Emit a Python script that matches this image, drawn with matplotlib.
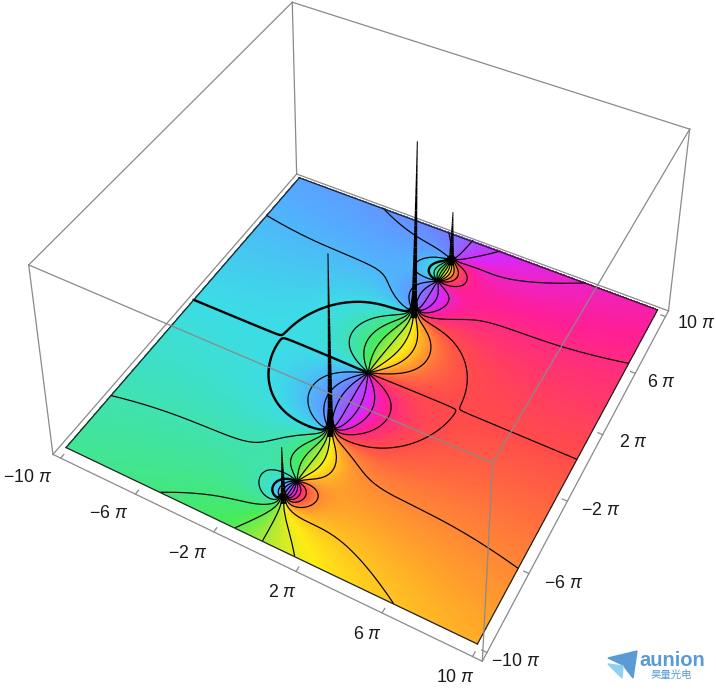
import numpy as np
import matplotlib
matplotlib.use("Agg")
import matplotlib.pyplot as plt
from matplotlib.colors import LinearSegmentedColormap
from matplotlib.patches import Polygon

PI = np.pi
R = 10 * PI
W, H = 716, 690

# poles and zeros of the plotted function
pole_x = [-0.05 * PI] * 4
pole_y = [-8 * PI, -4 * PI, 4 * PI, 8 * PI]
zero_x = [-0.15 * PI, -0.35 * PI, -0.15 * PI]
zero_y = [-6.75 * PI, -0.003, 6.75 * PI]
peak_tops = [0.31, 0.97, 0.97, 0.31]
tick_values = [-10, -6, -2, 2, 6, 10]
front_dx = [-33, -27, -26, -13, -15, -17]
front_dy = [-19, -19, -22, -21, -22, -21]
side_dx = [29, 35, 33, 31, 26, 31]
side_dy = [-9, -10, -9, -8, -9, -7]
hue_colors = ["#ff4b4b", "#ff9a2e", "#ffeb14", "#46eb5a", "#3cdce6", "#55aaff", "#6e82ff", "#d828fa", "#ff1e96", "#ff4b4b"]
hue_stops = [0, 1 / 12, 1 / 6, 1 / 3, 1 / 2, 7 / 12, 2 / 3, 5 / 6, 11 / 12, 1]

# camera fitted to the box corners of the picture, pixels from lower left
CAM = np.array([
    [5.4373, 4.4719, -25.1151, 374.895],
    [-3.06215, 5.68785, 151.61, 310.667],
    [-0.0016974, 0.0031055, -0.0686203, 1.0],
])
PAD = 0.042
Z0 = 0.021
L = R * (1 + PAD)


def pixel(x, y, z):
    h = np.array([x, y, z, 1.0]) @ CAM.T
    return h[:2] / h[2]


def field(x, y):
    z = x + 1j * y
    num = np.ones_like(z)
    for zx, zy in zip(zero_x, zero_y):
        num = num * (z - (zx + 1j * zy))
    den = np.ones_like(z)
    for px, py in zip(pole_x, pole_y):
        den = den * (z - (px + 1j * py))
    return num, den


def height(x, y, cap_scale=1.0):
    num, den = field(x, y)
    with np.errstate(divide="ignore", invalid="ignore"):
        mag = np.abs(num) / np.abs(den)
    mag = np.nan_to_num(mag, nan=1e9, posinf=1e9)
    near = np.argmin([np.hypot(x - px, y - py) for px, py in zip(pole_x, pole_y)], axis=0)
    caps = np.array(peak_tops)[near] * cap_scale
    return Z0 + np.minimum(0.1 * mag, caps)


def phase(x, y):
    num, den = field(x, y)
    return np.angle(num) - np.angle(den)


xn = np.unique(np.concatenate([np.linspace(-R, R, 161)] + [c + np.geomspace(0.03, 3, 20) for c in set(pole_x + zero_x)]
                              + [c - np.geomspace(0.03, 3, 20) for c in set(pole_x + zero_x)] + [list(set(pole_x + zero_x))]))
y_parts = [np.linspace(-R, R, 241)]
for c in pole_y + zero_y:
    y_parts += [c + np.geomspace(0.03, 3, 20), c - np.geomspace(0.03, 3, 20), [c]]
yn = np.unique(np.round(np.concatenate(y_parts), 6))
X, Y = np.meshgrid(xn, yn)
PH = phase(X, Y)
Zs = height(X, Y, cap_scale=0.3)

cmap = LinearSegmentedColormap.from_list("hue", list(zip(hue_stops, hue_colors)), N=720)
FC = cmap(np.mod(PH, 2 * PI) / (2 * PI))

fig = plt.figure(figsize=(W / 100, H / 100), dpi=100)
ax = fig.add_axes([-0.3, -0.3, 1.6, 1.6], projection="3d")
ax.computed_zorder = False
ax.set_axis_off()
ax.set_xlim(-L, L)
ax.set_ylim(-L, L)
ax.set_zlim(0, 1)


def get_proj():
    ax.apply_aspect()
    inv = ax.transData.inverted()
    o = inv.transform((0, 0))
    e = inv.transform((1, 1))
    A = np.array([[e[0] - o[0], 0, o[0]], [0, e[1] - o[1], o[1]], [0, 0, 1]])
    Q = A @ CAM
    return np.array([Q[0], Q[1], [0, 0, 0, -1.0], Q[2]])


ax.get_proj = get_proj

ax.plot_surface(X, Y, Zs, facecolors=FC, rcount=X.shape[0], ccount=X.shape[1], shade=False,
                antialiased=False, linewidth=0, zorder=1)

# phase contours, the negative real branch is drawn twice as heavy
tmp_fig, tmp_ax = plt.subplots()
for k in range(8):
    th = k * PI / 8
    cs = tmp_ax.contour(X, Y, np.sin(PH - th), levels=[0.0])
    for seg in cs.allsegs[0]:
        sx, sy = seg[:, 0], seg[:, 1]
        sz = height(sx, sy, cap_scale=0.15)
        if k == 0:
            sign = np.cos(phase(sx, sy))
            thin = np.where(sign > 0, sz, np.nan)
            thick = np.where(sign < 0, sz, np.nan)
            ax.plot(sx, sy, thin, color="k", lw=0.85, zorder=2, solid_capstyle="round")
            ax.plot(sx, sy, thick, color="k", lw=1.7, zorder=2, solid_capstyle="round")
        else:
            ax.plot(sx, sy, sz, color="k", lw=0.85, zorder=2, solid_capstyle="round")
plt.close(tmp_fig)

# spikes at the poles, black because the contours crowd together on them
for px, py, top in zip(pole_x, pole_y, peak_tops):
    levels = np.linspace(Z0, Z0 + top, 25)
    for i in range(len(levels) - 1):
        t = i / (len(levels) - 1)
        ax.plot([px, px], [py, py], [levels[i], levels[i + 1]], color="k",
                lw=0.7 + 3.5 * (1 - t) ** 1.3, zorder=2.5, solid_capstyle="butt")

# surface rim
for a, b in [((-R, -R), (R, -R)), ((R, -R), (R, R)), ((R, R), (-R, R)), ((-R, R), (-R, -R))]:
    ax.plot([a[0], b[0]], [a[1], b[1]], [Z0, Z0], color="#222222", lw=0.9, zorder=2)

# box
gray = "#8a8a8a"
c = [(-L, -L), (L, -L), (L, L), (-L, L)]
for i in range(4):
    a, b = c[i], c[(i + 1) % 4]
    ax.plot([a[0], b[0]], [a[1], b[1]], [0, 0], color=gray, lw=0.9, zorder=0.5)
    ax.plot([a[0], b[0]], [a[1], b[1]], [1, 1], color=gray, lw=0.9, zorder=3)
    ax.plot([a[0], a[0]], [a[1], a[1]], [0, 1], color=gray, lw=0.9, zorder=3 if a != (-L, L) else 0.5)

tick_len = 0.022 * L
for v in tick_values:
    t = v * PI
    ax.plot([t, t], [-L, -L + tick_len], [0, 0], color=gray, lw=0.9, zorder=0.5)
    ax.plot([L, L - tick_len], [t, t], [0, 0], color=gray, lw=0.9, zorder=0.5)

plt.rcParams["mathtext.fontset"] = "custom"
plt.rcParams["mathtext.it"] = "Liberation Sans:italic"
plt.rcParams["mathtext.rm"] = "Liberation Sans"

ax.apply_aspect()
inv = ax.transData.inverted()


def tick_label(x, y, s, dx, dy):
    q = pixel(x, y, 0.0)
    u, v = inv.transform((q[0] + dx, q[1] + dy))
    ax.text2D(u, v, s, transform=ax.transData, ha="center", va="center", fontsize=12.8,
              family="Liberation Sans", color="#1a1a1a")


for i, v in enumerate(tick_values):
    s = ("\u2212%d" % abs(v) if v < 0 else "%d" % v) + r" $\pi$"
    tick_label(v * PI, -L, s, front_dx[i], front_dy[i])
    tick_label(L, v * PI, s, side_dx[i], side_dy[i])

# watermark
logo_dark = [(608, 658), (637, 651), (633, 678), (623, 665)]
logo_light = [(608, 664), (623, 666), (622, 678)]
fig.add_artist(Polygon([(u / W, 1 - w / H) for u, w in logo_dark], closed=True, color="#5b9bd5", transform=fig.transFigure))
fig.add_artist(Polygon([(u / W, 1 - w / H) for u, w in logo_light], closed=True, color="#8fd0ee", transform=fig.transFigure))
fig.text(672 / W, 1 - 661 / H, "aunion", ha="center", va="center", fontsize=14.5, fontweight="bold",
         family="Liberation Sans", color="#5b9bd5")
fig.text(671 / W, 1 - 675 / H, "\u660a\u91cf\u5149\u7535", ha="center", va="center", fontsize=7.5,
         family="Noto Sans CJK SC", color="#5b9bd5")

fig.savefig("out.png", dpi=100)
